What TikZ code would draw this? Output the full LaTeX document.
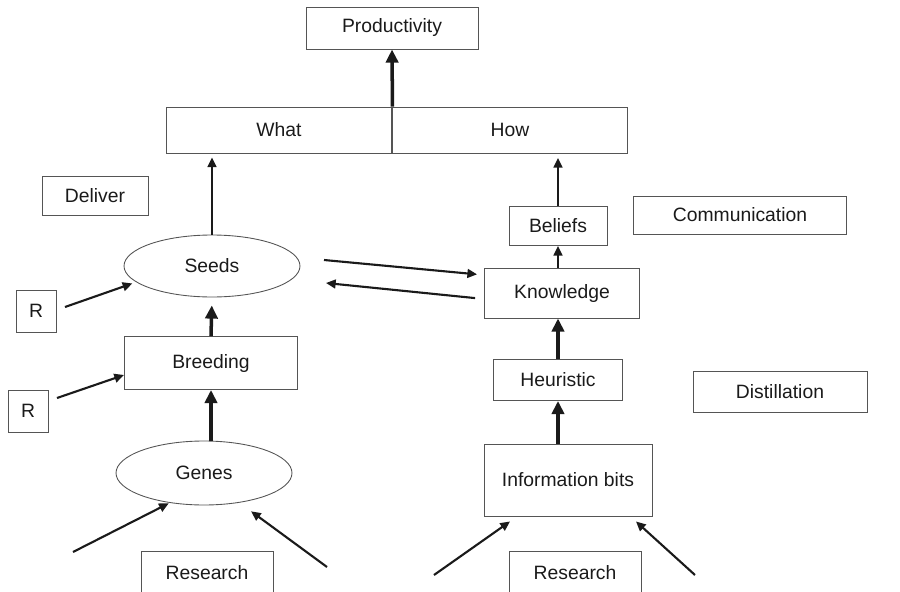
\documentclass[tikz,border=0pt]{standalone}
\usepackage{fontspec}
\setmainfont{Liberation Sans}
\usetikzlibrary{arrows.meta,shapes.geometric}
\definecolor{flowInk}{HTML}{1A1A1A}
\definecolor{flowLine}{HTML}{555555}
\tikzset{
    box/.style={draw=flowLine, line width=0.55pt, align=center, text=flowInk, inner sep=0pt},
    oval/.style={ellipse, draw=flowLine, line width=0.5pt, text=flowInk, inner sep=0pt},
    arrow/.style={-{Triangle[length=5.5pt,width=5pt]}, line width=1.2pt, draw=flowInk},
    thickarrow/.style={-{Triangle[length=7.5pt,width=7pt]}, line width=2pt, draw=flowInk}
}

\begin{document}
\begin{tikzpicture}[x=0.02cm, y=-0.02cm, font=\fontsize{11}{13}\selectfont]
\useasboundingbox (0,0) rectangle (900,592);
\node[box, minimum width=3.44cm, minimum height=0.84cm] (prod) at (392,28) {Productivity};
\node[box, minimum width=4.52cm, minimum height=0.92cm] (what) at (279,130) {What};
\node[box, minimum width=4.72cm, minimum height=0.92cm] (how) at (510,130) {How};
\node[box, minimum width=2.12cm, minimum height=0.78cm] (deliver) at (95,196) {Deliver};
\node[oval, minimum width=3.52cm, minimum height=1.24cm] (seeds) at (212,266) {Seeds};
\node[box, minimum width=0.8cm, minimum height=0.84cm] (r1) at (36,311) {R};
\node[box, minimum width=3.46cm, minimum height=1.06cm] (breeding) at (211,363) {Breeding};
\node[box, minimum width=0.8cm, minimum height=0.84cm] (r2) at (28,411) {R};
\node[oval, minimum width=3.52cm, minimum height=1.28cm] (genes) at (204,473) {Genes};
\node[box, minimum width=2.64cm, minimum height=0.88cm] (research1) at (207,573) {Research};
\node[box, minimum width=1.96cm, minimum height=0.78cm] (beliefs) at (558,226) {Beliefs};
\node[box, minimum width=4.26cm, minimum height=0.76cm] (comm) at (740,215) {Communication};
\node[box, minimum width=3.1cm, minimum height=1.0cm] (know) at (562,293) {Knowledge};
\node[box, minimum width=2.58cm, minimum height=0.82cm] (heur) at (558,380) {Heuristic};
\node[box, minimum width=3.48cm, minimum height=0.82cm] (distill) at (780,392) {Distillation};
\node[box, minimum width=3.36cm, minimum height=1.44cm] (info) at (568,480) {Information bits};
\node[box, minimum width=2.64cm, minimum height=0.88cm] (research2) at (575,573) {Research};

\coordinate (r1tail) at (65,307);
\coordinate (r2tail) at (57,398);
\coordinate (g1tail) at (73,552);
\coordinate (g2tail) at (327,567);
\coordinate (i1tail) at (434,575);
\coordinate (i2tail) at (695,575);
\coordinate (s2ktail) at (324,260);
\coordinate (k2shead) at (326,283);

\draw[thickarrow] (what.north east) -- (prod.south);
\draw[arrow, shorten >=0.8mm] (seeds.north) -- (seeds.north |- what.south);
\draw[arrow, shorten >=0.9mm] (beliefs.north) -- (beliefs.north |- how.south);
\draw[arrow] (beliefs.south |- know.north) -- (beliefs.south);
\draw[thickarrow, shorten >=1.6mm] (breeding.north) -- (seeds.south);
\draw[thickarrow] (breeding.south |- genes.north) -- (breeding.south);
\draw[thickarrow] (heur.north) -- (heur.north |- know.south);
\draw[thickarrow] (heur.south |- info.north) -- (heur.south);
\draw[arrow, shorten >=0.8mm] (r1tail) -- (seeds.192);
\draw[arrow] (r2tail) -- ([yshift=-2.4mm]breeding.west);
\draw[arrow, shorten >=0.2mm] (g1tail) -- (genes.221);
\draw[arrow, shorten >=2.9mm] (g2tail) -- (genes.320);
\draw[arrow] (i1tail) -- ([xshift=-11.6mm, yshift=-1mm]info.south);
\draw[arrow] (i2tail) -- ([xshift=13.6mm, yshift=-1mm]info.south);
\draw[arrow, shorten >=1.4mm] (s2ktail) -- ([yshift=3.6mm]know.west);
\draw[arrow, shorten <=1.8mm] ([yshift=-1.2mm]know.west) -- (k2shead);
\end{tikzpicture}
\end{document}
